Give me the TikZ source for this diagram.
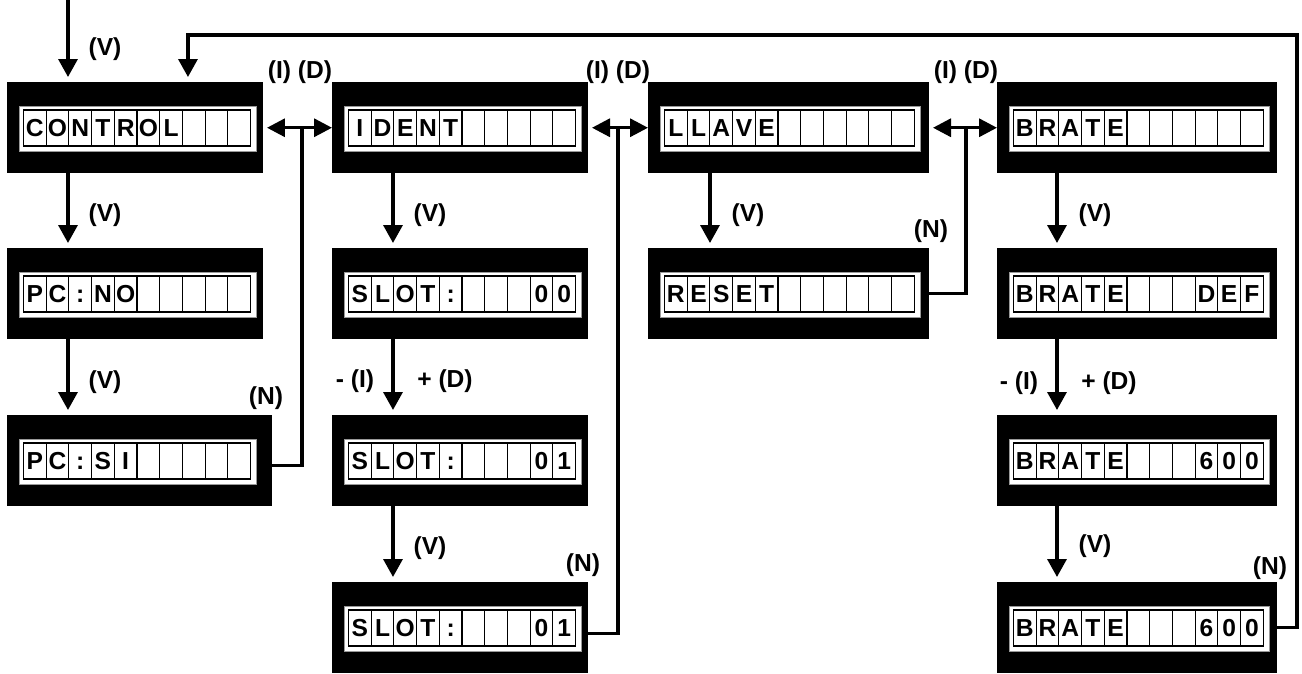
\documentclass[tikz,border=0pt]{standalone}
\usepackage{fontspec}
\setmainfont{Liberation Sans}
\usetikzlibrary{arrows.meta,calc}
\tikzset{
 lcdbox/.style={fill=black, inner sep=0pt, outer sep=0pt, anchor=north west},
 strip/.style={fill=white, draw=black!40, line width=0.4pt},
 cell/.style={draw=black, line width=0.6pt, fill=white, minimum width=0.454cm, minimum height=0.72cm, inner sep=0pt, text height=10pt, text depth=0pt, font=\fontsize{14}{16}\selectfont\bfseries},
 lab/.style={font=\fontsize{14}{16}\selectfont\bfseries, inner sep=0pt},
 wire/.style={line width=1.9pt},
 arr/.style={wire, -{Triangle[length=0.36cm,width=0.38cm]}, shorten >=0.1cm},
 darr/.style={wire, {Triangle[length=0.36cm,width=0.36cm]}-{Triangle[length=0.36cm,width=0.36cm]}, shorten <=0.08cm},
}
% name, x0, y0, x1, number of cells, letters
\newcommand{\lcd}[6]{%
 \node[lcdbox, minimum width={(#4-#2)*0.02cm}, minimum height=1.83cm] (#1) at (#2,#3) {};
 \path[strip] (#2+12,#3+24) rectangle (#2+16.5+#5*22.7+6,#3+69);
 \foreach \ch [count=\cn] in {#6} {
   \node[cell] (#1c\cn) at (#2+16.5+\cn*22.7-11.35,#3+46) {\ch};
 }
}
\begin{document}
\begin{tikzpicture}[x=0.02cm,y=-0.02cm]
\useasboundingbox (0,0) rectangle (1302,673);
% column 1
\lcd{ctrl}{7}{82}{263}{10}{C,O,N,T,R,O,L,{},{},{}}
\lcd{pcno}{7}{248}{263}{10}{P,C,:,N,O,{},{},{},{},{}}
\lcd{pcsi}{7}{415}{272}{10}{P,C,:,S,I,{},{},{},{},{}}
% column 2
\lcd{ident}{332}{82}{588}{10}{I,D,E,N,T,{},{},{},{},{}}
\lcd{slotz}{332}{248}{588}{10}{S,L,O,T,:,{},{},{},0,0}
\lcd{slota}{332}{415}{588}{10}{S,L,O,T,:,{},{},{},0,1}
\lcd{slotb}{332}{582}{588}{10}{S,L,O,T,:,{},{},{},0,1}
% column 3
\lcd{llave}{648}{82}{929}{11}{L,L,A,V,E,{},{},{},{},{},{}}
\lcd{reset}{648}{248}{929}{11}{R,E,S,E,T,{},{},{},{},{},{}}
% column 4
\lcd{brate}{997}{82}{1277}{11}{B,R,A,T,E,{},{},{},{},{},{}}
\lcd{bdef}{997}{248}{1277}{11}{B,R,A,T,E,{},{},{},D,E,F}
\lcd{bsix}{997}{415}{1277}{11}{B,R,A,T,E,{},{},{},6,0,0}
\lcd{bsixb}{997}{582}{1277}{11}{B,R,A,T,E,{},{},{},6,0,0}

% entry arrow
\coordinate (entry) at (68,0);
\draw[arr] (entry) -- (entry |- ctrl.north);
% vertical arrows
\draw[arr] ([xshift=1.22cm]ctrl.south west) -- ([xshift=1.22cm]pcno.north west);
\draw[arr] ([xshift=1.22cm]pcno.south west) -- ([xshift=1.22cm]pcsi.north west);
\draw[arr] ([xshift=1.22cm]ident.south west) -- ([xshift=1.22cm]slotz.north west);
\draw[arr] ([xshift=1.22cm]slotz.south west) -- ([xshift=1.22cm]slota.north west);
\draw[arr] ([xshift=1.22cm]slota.south west) -- ([xshift=1.22cm]slotb.north west);
\draw[arr] ([xshift=1.24cm]llave.south west) -- ([xshift=1.24cm]reset.north west);
\draw[arr] ([xshift=1.2cm]brate.south west) -- ([xshift=1.2cm]bdef.north west);
\draw[arr] ([xshift=1.2cm]bdef.south west) -- ([xshift=1.2cm]bsix.north west);
\draw[arr] ([xshift=1.2cm]bsix.south west) -- ([xshift=1.2cm]bsixb.north west);
% double arrows
\draw[darr] (ctrl.east) -- (ident.west);
\draw[darr] (ident.east) -- (llave.west);
\draw[darr] (llave.east) -- (brate.west);
% junction returns
\coordinate (ja) at (302,127.75);
\coordinate (jb) at (618,127.75);
\coordinate (jc) at (966,127.75);
\draw[wire] ([yshift=-0.09cm]pcsi.east) -| (ja);
\draw[wire] ([yshift=-0.11cm]slotb.east) -| (jb);
\draw[wire] (reset.east) -| (jc);
% feedback loop
\coordinate (fb) at (1297,35);
\draw[arr] (bsixb.east) -| (fb) -| ([xshift=3.62cm]ctrl.north west);

% labels
\node[lab] (lva) at (105,49) {(V)};
\node[lab] (lvb) at (105,215) {(V)};
\node[lab] (lvc) at (105,382) {(V)};
\node[lab] (lna) at (266,398) {(N)};
\node[lab] (lida) at (300,72) {(I) (D)};
\node[lab] (lidb) at (618,72) {(I) (D)};
\node[lab] (lidc) at (966,72) {(I) (D)};
\node[lab] (lvd) at (430,215) {(V)};
\node[lab] (lma) at (355,381) {- (I)};
\node[lab] (lpa) at (445,381) {+ (D)};
\node[lab] (lve) at (430,548) {(V)};
\node[lab] (lnb) at (583,565) {(N)};
\node[lab] (lvf) at (748,215) {(V)};
\node[lab] (lnc) at (931,231) {(N)};
\node[lab] (lvg) at (1095,215) {(V)};
\node[lab] (lmb) at (1019,383) {- (I)};
\node[lab] (lpb) at (1109,383) {+ (D)};
\node[lab] (lvh) at (1095,546) {(V)};
\node[lab] (lnd) at (1270,568) {(N)};
\end{tikzpicture}
\end{document}
